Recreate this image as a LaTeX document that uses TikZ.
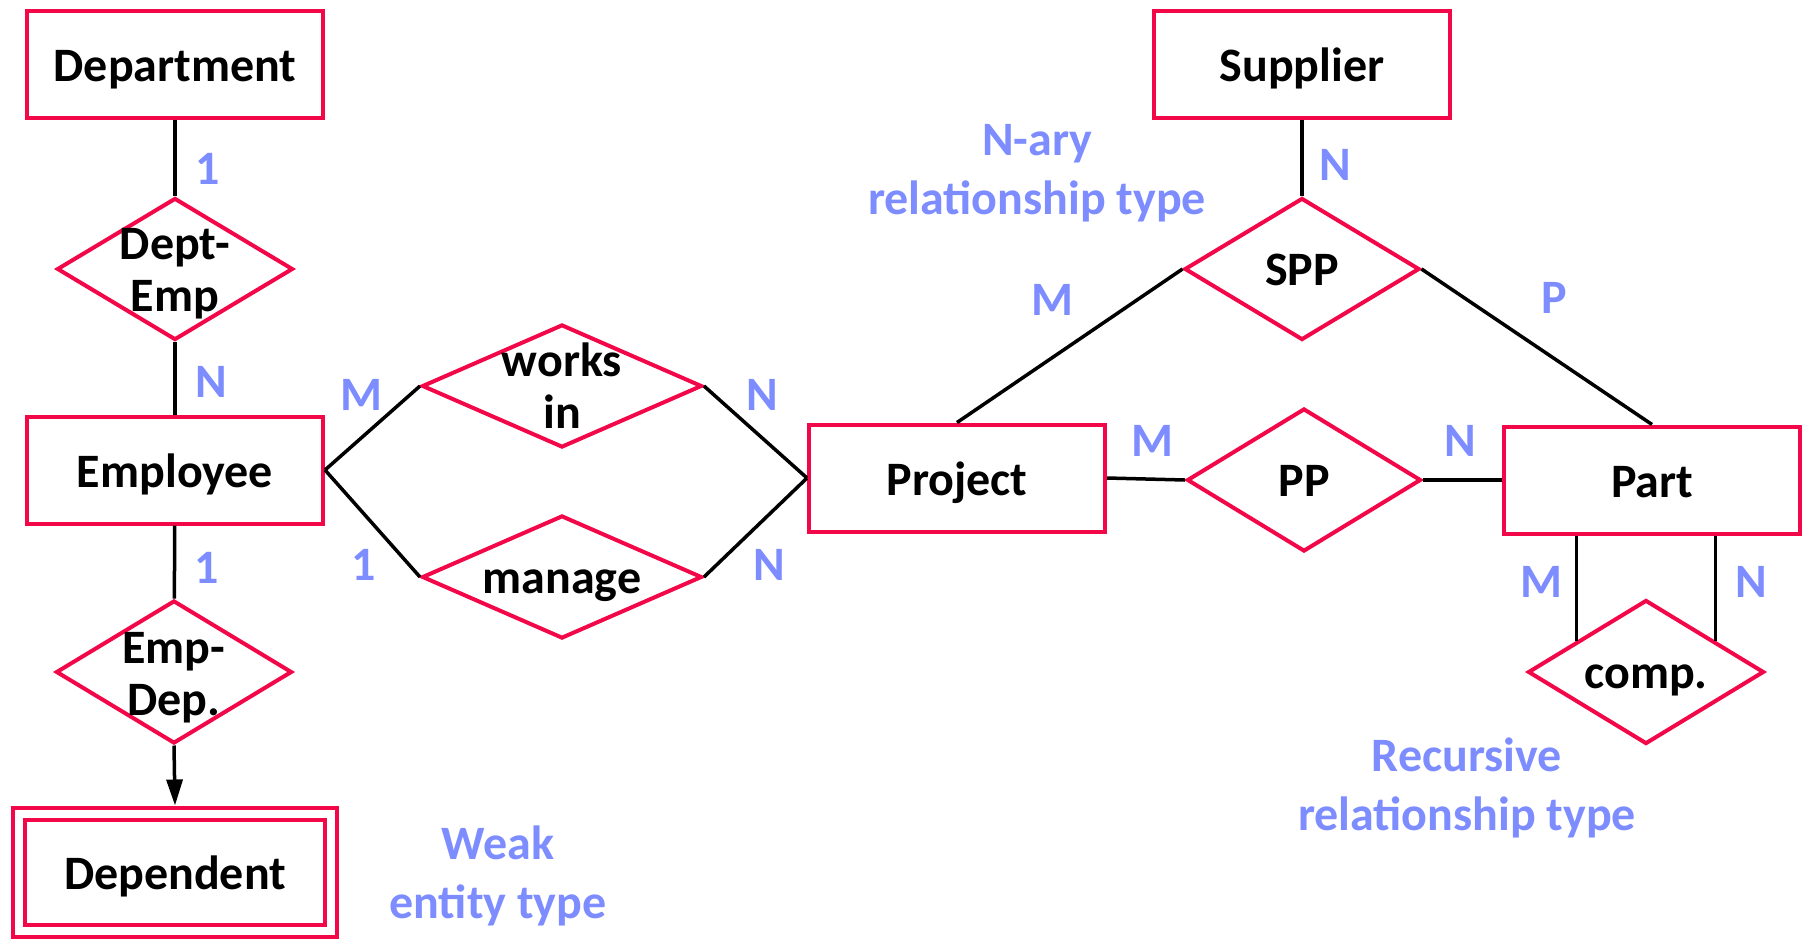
\documentclass[tikz,border=0pt]{standalone}
\usepackage{fontspec}
\setmainfont{Carlito}
\usetikzlibrary{shapes.geometric,arrows.meta,calc}
\definecolor{erred}{RGB}{242,8,72}
\definecolor{erblue}{RGB}{125,140,255}
\tikzset{
  entity/.style={draw=erred, line width=4pt, minimum width=296pt, minimum height=107pt, text height=34pt, text depth=0pt},
  rel/.style={diamond, draw=erred, line width=4pt, inner sep=0pt},
  reltext/.style={align=center, text height=32pt, text depth=0pt},
  reltexttwo/.style={align=center},
  card/.style={text=erblue},
  note/.style={text=erblue, align=center, font=\fontsize{48}{59}\selectfont\bfseries},
  link/.style={line width=3.5pt},
}
\begin{document}
\begin{tikzpicture}[x=1pt, y=-1pt, font=\fontsize{48}{52}\selectfont\bfseries]
\useasboundingbox (0,0) rectangle (1804,940);

% entity types
\node[entity] (department) at (175,64) {Department};
\node[entity] (employee) at (175,470) {Employee};
\node[entity, double=white, double distance=8pt, minimum width=312pt, minimum height=117pt, outer sep=8pt] (dependent) at (175,872) {Dependent};
\node[entity] (project) at (957,478) {Project};
\node[entity] (part) at (1652,480) {Part};
\node[entity] (supplier) at (1302,64) {Supplier};

% relationship types
\node[rel, minimum width=236pt, minimum height=142pt] (deptemp) at (175,269) {};
\node[reltexttwo] (deptemp-t) at ([yshift=-5pt]deptemp) {Dept-\\Emp};
\node[rel, minimum width=236pt, minimum height=143pt] (empdep) at (174,672) {};
\node[reltexttwo] (empdep-t) at ([yshift=-6pt]empdep) {Emp-\\Dep.};
\node[rel, minimum width=280pt, minimum height=123pt] (worksin) at (562,386) {};
\node[reltexttwo] (worksin-t) at (worksin) {works\\in};
\node[rel, minimum width=280pt, minimum height=123pt] (manage) at (562,577) {};
\node[reltext] (manage-t) at (manage) {manage};
\node[rel, minimum width=234pt, minimum height=143pt] (pp) at (1304,480) {};
\node[reltext] (pp-t) at (pp) {PP};
\node[rel, minimum width=235pt, minimum height=142pt] (spp) at (1302,269) {};
\node[reltext] (spp-t) at (spp) {SPP};
\node[rel, minimum width=236pt, minimum height=144pt] (comp) at (1646,672) {};
\node[reltext] (comp-t) at (comp) {comp.};

% connectors
\draw[link] (department) -- (deptemp);
\draw[link] (deptemp) -- (employee);
\draw[link] (employee) -- (empdep);
\draw[link, -{Triangle[length=26pt,width=16pt]}] (empdep.south) -- (dependent.north);
\draw[link] (employee.east) -- (worksin.west);
\draw[link] (employee.east) -- (manage.west);
\draw[link] (worksin.east) -- (project.west);
\draw[link] (manage.east) -- (project.west);
\draw[link] (project.east) -- (pp.west);
\draw[link] (pp.east) -- (part.west);
\draw[link] (supplier) -- (spp);
\draw[link] (spp.west) -- (project.north);
\draw[link] (spp.east) -- (part.north);
\coordinate (compa) at ($(comp.west)!0.42!(comp.north)$);
\coordinate (compb) at ($(comp.east)!0.42!(comp.north)$);
\draw[link] (compa |- part.south) -- (compa);
\draw[link] (compb |- part.south) -- (compb);

% cardinalities
\node[card] (c-dept) at (208,169) {1};
\node[card] (c-emp1) at (211,382) {N};
\node[card] (c-emp2) at (207,568) {1};
\node[card] (c-wi1) at (361,395) {M};
\node[card] (c-wi2) at (762,395) {N};
\node[card] (c-mg1) at (364,565) {1};
\node[card] (c-mg2) at (769,565) {N};
\node[card] (c-spp1) at (1052,300) {M};
\node[card] (c-spp2) at (1335,165) {N};
\node[card] (c-spp3) at (1554,298) {P};
\node[card] (c-pp1) at (1152,441) {M};
\node[card] (c-pp2) at (1460,441) {N};
\node[card] (c-cp1) at (1541,582) {M};
\node[card] (c-cp2) at (1751,582) {N};

% notes
\node[note] (nary) at (1037,173) {N-ary\\relationship type};
\node[note] (recursive) at (1467,788) {Recursive\\relationship type};
\node[note] (weak) at (498,876) {Weak\\entity type};
\end{tikzpicture}
\end{document}
